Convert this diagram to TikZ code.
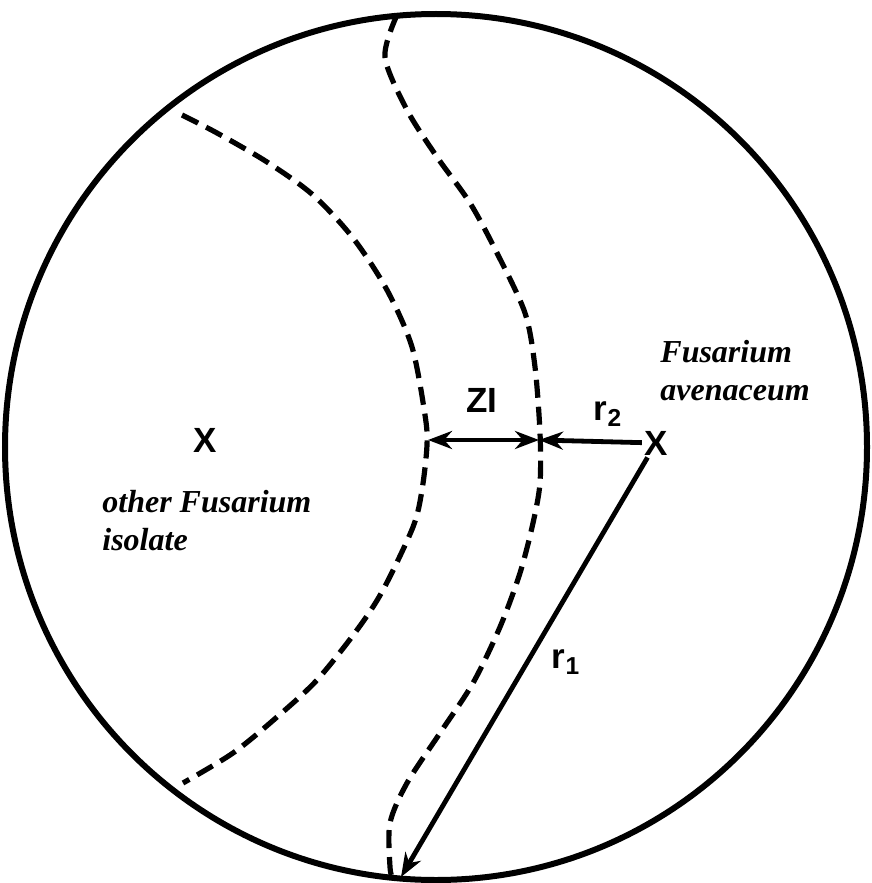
\documentclass[tikz,border=0pt]{standalone}
\usepackage{fontspec}
\setmainfont{Liberation Serif}
\setsansfont{Liberation Sans}
\usetikzlibrary{positioning,arrows.meta}

\tikzset{
  rim/.style={line width=3pt},
  front/.style={line width=2.6pt, dash pattern=on 9pt off 4.5pt},
  measure/.style={line width=2.4pt, -{Stealth[length=12pt,width=9pt]}},
  twoway/.style={line width=2.4pt, {Stealth[length=12pt,width=9pt]}-{Stealth[length=12pt,width=9pt]}},
  lbl/.style={font=\sffamily\bfseries\fontsize{17.5}{17.5}\selectfont, inner sep=1pt},
  species/.style={font=\bfseries\itshape\fontsize{16}{19}\selectfont, align=left, inner sep=0pt}
}

\begin{document}
\begin{tikzpicture}[x=0.5pt, y=-0.5pt]
  \useasboundingbox (0,0) rectangle (872,883);
  % the plate
  \draw[rim] (436,447) circle [x radius=431, y radius=433];
  % growth fronts of the two isolates
  \draw[front] plot[smooth] coordinates {(182,115) (217,133) (267,162) (313,195) (353,238)
    (387,290) (412,347) (425,415) (427,445) (422,490) (413,527) (383,590) (357,630)
    (317,680) (277,717) (233,753) (183,783)};
  \draw[front] plot[smooth] coordinates {(397,15) (385,57) (407,110) (437,157) (470,203)
    (497,253) (525,313) (535,367) (540,433) (540,483) (533,523) (520,573) (500,627)
    (473,683) (440,733) (407,783) (390,823) (390,867) (393,880)};
  % inocula
  \node[lbl] (fa) at (656,443) {X};
  \node[lbl] (oth) at (205,440) {X};
  \node[species, anchor=north west] (faname) at (660,340) {Fusarium\\avenaceum};
  \node[species, anchor=north west] (othname) at (102,490) {other Fusarium\\isolate};
  % distances
  \coordinate (zl) at (428,440);
  \coordinate (zr) at (539,440);
  \coordinate (edge) at (401,877);
  \draw[twoway] (zl) -- (zr);
  \draw[measure] (fa) -- (zr);
  \draw[measure] (fa) -- (edge);
  \node[lbl] (zi) at (482,400) {ZI};
  \node[lbl] (r2) at (608,414) {r\textsubscript{2}};
  \node[lbl] (r1) at (566,662) {r\textsubscript{1}};
\end{tikzpicture}
\end{document}
